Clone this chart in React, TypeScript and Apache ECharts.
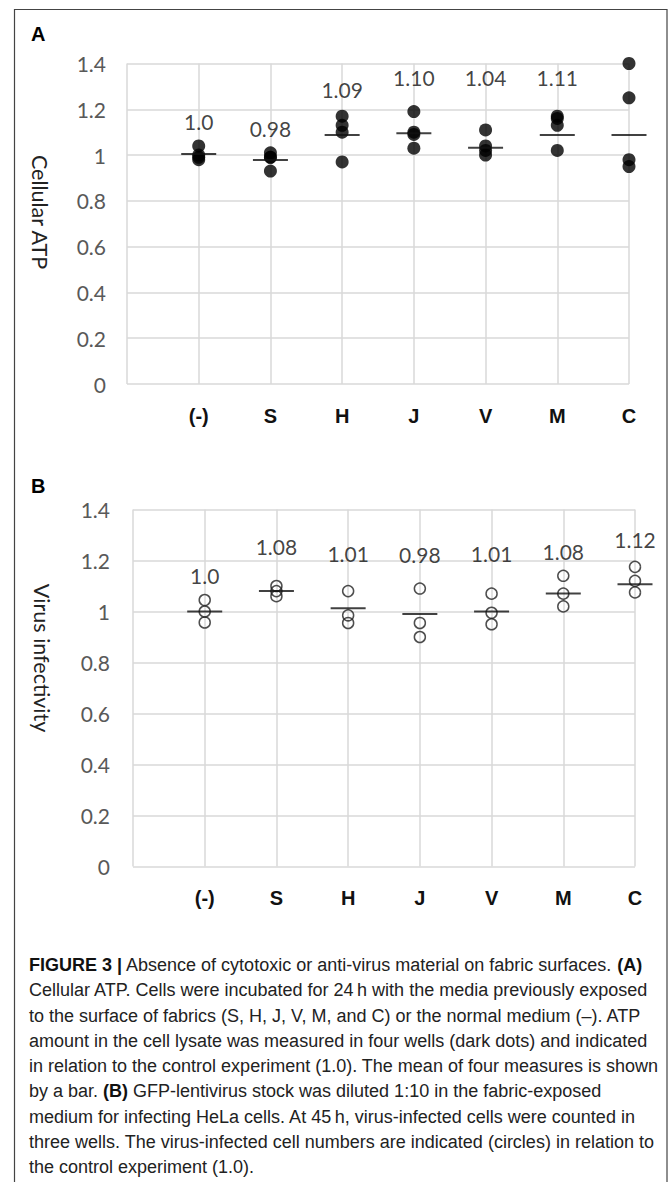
import React, { useEffect, useRef } from "react";
import * as echarts from "echarts";

// ---------- data ----------
const categories = ["(-)", "S", "H", "J", "V", "M", "C"];
const yTickValues = [0, 0.2, 0.4, 0.6, 0.8, 1, 1.2, 1.4];

// Panel A: cellular ATP, four wells per condition (dark dots)
const atpWells = [
  [1.04, 1.0, 0.99, 0.98],
  [1.01, 0.99, 0.99, 0.93],
  [1.17, 1.13, 1.1, 0.97],
  [1.19, 1.1, 1.09, 1.03],
  [1.11, 1.04, 1.02, 1.0],
  [1.17, 1.16, 1.13, 1.02],
  [1.4, 1.25, 0.98, 0.95],
];
const atpMeanBars = [1.005, 0.978, 1.088, 1.095, 1.032, 1.088, 1.088];
const atpLabels = ["1.0", "0.98", "1.09", "1.10", "1.04", "1.11", "1.14"];
const atpLabelLevels = [1.148, 1.115, 1.286, 1.338, 1.338, 1.338, 1.5];

// Panel B: virus infectivity, three wells per condition (circles)
const virusWells = [
  [1.045, 1.0, 0.957],
  [1.1, 1.08, 1.06],
  [1.08, 0.985, 0.955],
  [1.09, 0.955, 0.9],
  [1.07, 0.995, 0.95],
  [1.14, 1.07, 1.02],
  [1.175, 1.12, 1.075],
];
const virusMeanBars = [1.0, 1.08, 1.013, 0.99, 1.0, 1.071, 1.107];
const virusLabels = ["1.0", "1.08", "1.01", "0.98", "1.01", "1.08", "1.12"];
const virusLabelLevels = [1.141, 1.254, 1.228, 1.224, 1.228, 1.237, 1.284];

const captionLines = [
  "{b|FIGURE 3 |} Absence of cytotoxic or anti-virus material on fabric surfaces. {b|(A)}",
  "Cellular ATP. Cells were incubated for 24\u2009h with the media previously exposed",
  "to the surface of fabrics (S, H, J, V, M, and C) or the normal medium (\u2013). ATP",
  "amount in the cell lysate was measured in four wells (dark dots) and indicated",
  "in relation to the control experiment (1.0). The mean of four measures is shown",
  "by a bar. {b|(B)} GFP-lentivirus stock was diluted 1:10 in the fabric-exposed",
  "medium for infecting HeLa cells. At 45\u2009h, virus-infected cells were counted in",
  "three wells. The virus-infected cell numbers are indicated (circles) in relation to",
  "the control experiment (1.0).",
];

// ---------- styling ----------
const NUM_FONT = "Lato, 'Open Sans', sans-serif";
const CAT_FONT = "'Liberation Sans Narrow', 'Arial Narrow', 'Liberation Sans', sans-serif";
const CAP_FONT = "'Liberation Sans', Arial, Helvetica, sans-serif";
const GRID_COLOR = "#d9d9d9";

function flatten(wells: number[][]) {
  const out: number[][] = [];
  wells.forEach((w, i) => w.forEach((v) => out.push([i + 1, v])));
  return out;
}

function xAxisFor(gridIndex: number, margin: number) {
  return {
    type: "value",
    gridIndex,
    min: 0,
    max: categories.length,
    interval: 1,
    axisLine: { show: false },
    axisTick: { show: false },
    splitLine: { show: true, lineStyle: { color: GRID_COLOR, width: 1.5 } },
    axisLabel: {
      margin,
      fontFamily: CAT_FONT,
      fontWeight: "bold",
      fontSize: 20,
      color: "#111",
      formatter: (v: number) => (v >= 1 ? categories[Math.round(v) - 1] : ""),
    },
  };
}

function yAxisFor(gridIndex: number, margin: number) {
  return {
    type: "value",
    gridIndex,
    min: 0,
    max: yTickValues[yTickValues.length - 1],
    interval: yTickValues[1] - yTickValues[0],
    axisLine: { show: false },
    axisTick: { show: false },
    splitLine: { show: true, lineStyle: { color: GRID_COLOR, width: 1.5 } },
    axisLabel: {
      margin,
      fontFamily: NUM_FONT,
      fontSize: 21,
      color: "#595959",
      formatter: (v: number) => String(Number(v.toFixed(1))),
    },
  };
}

function panelSeries(
  idx: number,
  wells: number[][],
  means: number[],
  labels: string[],
  levels: number[],
  open: boolean
) {
  return [
    {
      type: "scatter",
      xAxisIndex: idx,
      yAxisIndex: idx,
      data: flatten(wells),
      symbol: "circle",
      symbolSize: open ? 11 : 13,
      itemStyle: open
        ? { color: "rgba(0,0,0,0)", borderColor: "#222", borderWidth: 1.5 }
        : { color: "#000" },
      z: 3,
    },
    {
      type: "scatter",
      xAxisIndex: idx,
      yAxisIndex: idx,
      data: means.map((m, i) => [i + 1, m]),
      symbol: "rect",
      symbolSize: [35, 2],
      itemStyle: { color: "#111" },
      z: 4,
    },
    {
      type: "scatter",
      xAxisIndex: idx,
      yAxisIndex: idx,
      data: levels.map((l, i) => ({ value: [i + 1, l], name: labels[i] })),
      symbolSize: 0,
      itemStyle: { color: "rgba(0,0,0,0)" },
      label: {
        show: true,
        position: "inside",
        formatter: (p: any) => p.name,
        fontFamily: NUM_FONT,
        fontSize: 21,
        color: "#111",
      },
      z: 5,
    },
  ];
}

export default function App() {
  const ref = useRef<HTMLDivElement>(null);

  useEffect(() => {
    if (!ref.current) return;
    const chart = echarts.init(ref.current, undefined, { renderer: "svg" });

    const captionGraphics = captionLines.map((line, i) => ({
      type: "text",
      x: 29,
      y: 965 + i * 25.25,
      style: {
        text: line,
        fontFamily: CAP_FONT,
        fontSize: 18,
        fill: "#222",
        verticalAlign: "middle",
        align: "left",
        rich: { b: { fontWeight: "bold", fontFamily: CAP_FONT, fontSize: 18, fill: "#111" } },
      },
    }));

    chart.setOption({
      animation: false,
      backgroundColor: "#fff",
      grid: [
        { left: 127, top: 63.5, width: 502, height: 320.5 },
        { left: 133, top: 509.5, width: 502, height: 357 },
      ],
      xAxis: [xAxisFor(0, 22), xAxisFor(1, 21)],
      yAxis: [yAxisFor(0, 21), yAxisFor(1, 23)],
      series: [
        ...panelSeries(0, atpWells, atpMeanBars, atpLabels, atpLabelLevels, false),
        ...panelSeries(1, virusWells, virusMeanBars, virusLabels, virusLabelLevels, true),
      ],
      graphic: [
        {
          type: "rect",
          shape: { x: 14.5, y: 9.5, width: 652.5, height: 1200 },
          style: { fill: "none", stroke: "#444", lineWidth: 1.2 },
          silent: true,
        },
        {
          type: "text",
          x: 31,
          y: 33.5,
          style: {
            text: "A",
            fontFamily: CAP_FONT,
            fontWeight: "bold",
            fontSize: 20,
            fill: "#000",
            verticalAlign: "middle",
          },
        },
        {
          type: "text",
          x: 31,
          y: 486,
          style: {
            text: "B",
            fontFamily: CAP_FONT,
            fontWeight: "bold",
            fontSize: 20,
            fill: "#000",
            verticalAlign: "middle",
          },
        },
        {
          type: "text",
          x: 40,
          y: 212,
          rotation: -Math.PI / 2,
          style: {
            text: "Cellular ATP",
            fontFamily: NUM_FONT,
            fontSize: 21.5,
            fill: "#222",
            align: "center",
            verticalAlign: "middle",
          },
        },
        {
          type: "text",
          x: 42,
          y: 658,
          rotation: -Math.PI / 2,
          style: {
            text: "Virus infectivity",
            fontFamily: NUM_FONT,
            fontSize: 21.5,
            fill: "#222",
            align: "center",
            verticalAlign: "middle",
          },
        },
        ...captionGraphics,
      ],
    });

    return () => chart.dispose();
  }, []);

  return (
    <div
      ref={ref}
      style={{ position: "fixed", left: 0, top: 0, width: 669, height: 1182, background: "#fff" }}
    />
  );
}
